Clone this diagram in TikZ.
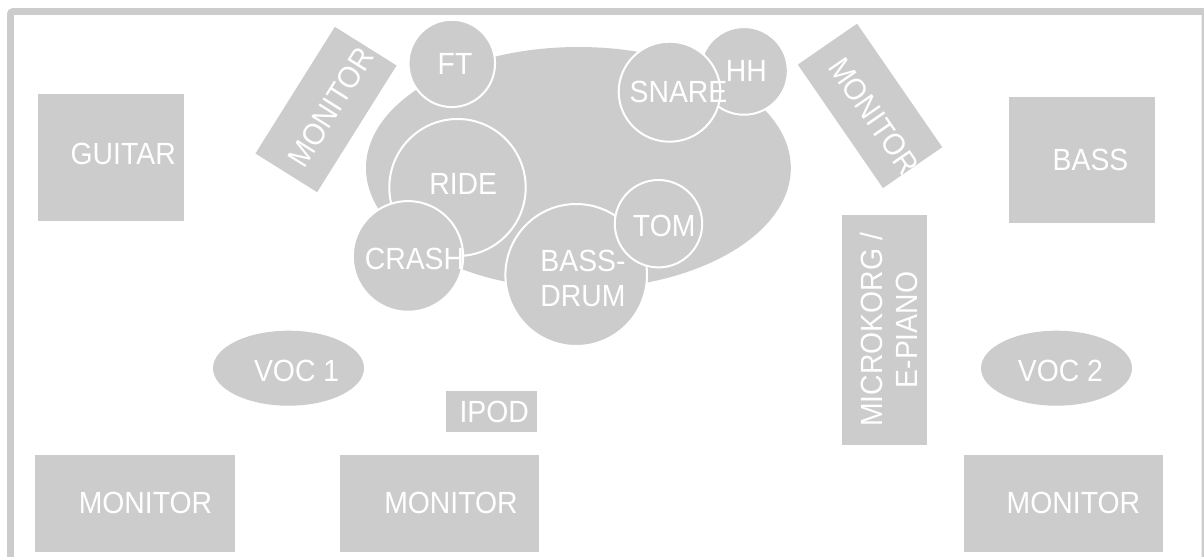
\documentclass[tikz,border=0pt]{standalone}
\usepackage{fontspec}
\setmainfont[FakeStretch=0.925]{Liberation Sans}
\usetikzlibrary{shapes.geometric}
\definecolor{stagegrey}{RGB}{204,204,204}
\tikzset{
  x=0.75pt, y=-0.75pt,
  box/.style={fill=stagegrey, draw=none, rectangle, inner sep=0pt, outer sep=0pt},
  drum/.style={fill=stagegrey, draw=white, line width=1.5pt, ellipse, inner sep=0pt, outer sep=0pt},
  vocal/.style={fill=stagegrey, draw=none, ellipse, inner sep=0pt, outer sep=0pt},
  lbl/.style={text=white, inner sep=0pt, outer sep=0pt, align=center, anchor=center,
    font=\fontsize{23}{26.25}\selectfont},
}
\begin{document}
\begin{tikzpicture}
\useasboundingbox (0,0) rectangle (1204,557);
\clip (0,0) rectangle (1204,557);
\fill[white] (0,0) rectangle (1204,557);
% frame
\draw[stagegrey, line width=5.2pt, rounded corners=2pt] (10.5,570) -- (10.5,11.5) -- (1205,11.5) -- (1205,570);
% drum riser
\node[vocal, minimum width=424.8*0.75pt, minimum height=242*0.75pt] (riser) at (578.4,168) {};
% instruments
\node[box, minimum width=146*0.75pt, minimum height=126.7*0.75pt] (guitar) at (111,157.3) {};
\node[lbl] (guitarL) at (123.2,154) {GUITAR};
\node[box, minimum width=149.5*0.75pt, minimum height=72.8*0.75pt, rotate=57.9] (monL) at (326,109.5) {};
\node[lbl, rotate=57.9] (monLL) at (331,107) {MONITOR};
\node[box, minimum width=150*0.75pt, minimum height=72*0.75pt, rotate=-55.4] (monR) at (870,105.9) {};
\node[lbl, rotate=-55.4] (monRL) at (874,116) {MONITOR};
\node[box, minimum width=146*0.75pt, minimum height=126.6*0.75pt] (bass) at (1082,160) {};
\node[lbl] (bassL) at (1090.5,160) {BASS};
\node[box, minimum width=85.4*0.75pt, minimum height=230.3*0.75pt] (korg) at (884.7,330.2) {};
\node[lbl, rotate=90] (korgL) at (889,330) {MICROKORG /\\E-PIANO};
% drums
\node[drum, minimum width=86.5*0.75pt, minimum height=87.3*0.75pt] (ft) at (451.8,63.4) {};
\node[lbl] (ftL) at (455,64) {FT};
\node[drum, minimum width=136.4*0.75pt, minimum height=137*0.75pt] (ride) at (457.5,187.5) {};
\node[lbl] (rideL) at (463.2,184) {RIDE};
\node[drum, minimum width=110.4*0.75pt, minimum height=110.7*0.75pt] (crash) at (408,256.4) {};
\node[lbl] (crashL) at (414.5,258.8) {CRASH};
\node[drum, minimum width=141.6*0.75pt, minimum height=142*0.75pt] (bd) at (576.2,275) {};
\node[lbl] (bdL) at (583,278.5) {BASS-\\DRUM};
\node[drum, minimum width=87.4*0.75pt, minimum height=87.4*0.75pt] (tom) at (658.5,223.7) {};
\node[lbl] (tomL) at (664.2,225.7) {TOM};
\node[drum, minimum width=87.7*0.75pt, minimum height=87.7*0.75pt] (hh) at (744,70.9) {};
\node[lbl] (hhL) at (746.3,71) {HH};
\node[drum, minimum width=101.6*0.75pt, minimum height=100*0.75pt] (snare) at (669.5,91.7) {};
\node[lbl] (snareL) at (678.5,91.7) {SNARE};
% front
\node[vocal, minimum width=151*0.75pt, minimum height=75*0.75pt] (voca) at (288.5,368.2) {};
\node[lbl] (vocaL) at (296.6,370.5) {VOC 1};
\node[vocal, minimum width=151*0.75pt, minimum height=75*0.75pt] (vocb) at (1056.5,368.2) {};
\node[lbl] (vocbL) at (1060.4,370.5) {VOC 2};
\node[box, minimum width=91*0.75pt, minimum height=41.3*0.75pt] (ipod) at (491,411.3) {};
\node[lbl] (ipodL) at (494.2,411.7) {IPOD};
\node[box, minimum width=200*0.75pt, minimum height=97.3*0.75pt] (mona) at (135,503.6) {};
\node[lbl] (monaL) at (145.5,503) {MONITOR};
\node[box, minimum width=199*0.75pt, minimum height=97.3*0.75pt] (monb) at (439.5,503.6) {};
\node[lbl] (monbL) at (451,503) {MONITOR};
\node[box, minimum width=199.5*0.75pt, minimum height=97.3*0.75pt] (monc) at (1063.7,503.6) {};
\node[lbl] (moncL) at (1073.4,503) {MONITOR};
\end{tikzpicture}
\end{document}
